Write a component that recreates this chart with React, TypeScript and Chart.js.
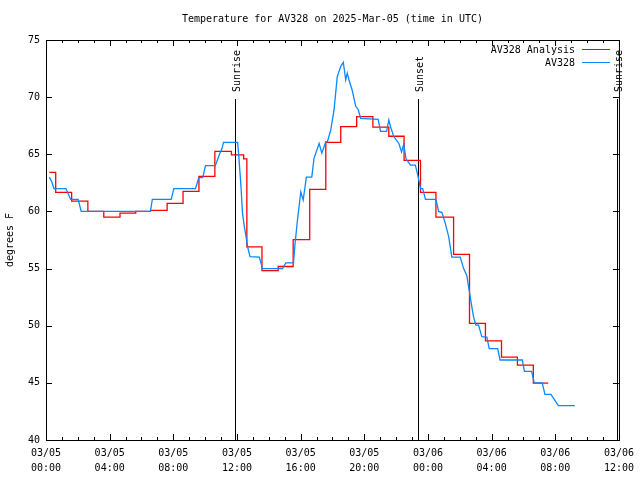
import React, { useEffect, useRef } from 'react';
import { Chart, registerables } from 'chart.js';

Chart.register(...registerables);

const TITLE = 'Temperature for AV328 on 2025-Mar-05 (time in UTC)';
const Y_TITLE = 'degrees F';
const SERIES_NAMES = ['AV328 Analysis', 'AV328'];

// hours since 2025-03-05 00:00 UTC; analysis is a step series (value holds until next point)
const analysisHours = [0.21, 0.61, 1.61, 2.63, 3.63, 4.65, 5.64, 6.57, 7.61, 8.61, 9.61, 10.61, 11.65, 12.42, 12.62, 13.57, 14.59, 15.53, 16.57, 17.58, 18.52, 19.52, 20.54, 21.54, 22.5, 23.53, 24.5, 25.61, 26.61, 27.61, 28.62, 29.62, 30.62, 31.56];
const analysisTemps = [63.42, 61.67, 60.9, 60.0, 59.5, 59.85, 60.0, 60.09, 60.7, 61.75, 63.07, 65.26, 64.94, 64.6, 56.9, 54.82, 55.18, 57.54, 61.93, 66.05, 67.42, 68.3, 67.37, 66.58, 64.47, 61.67, 59.5, 56.25, 50.2, 48.67, 47.26, 46.56, 44.98, 44.98];

const obsHours = [0.21, 0.36, 0.5, 1.25, 1.55, 2.02, 2.21, 6.56, 6.68, 7.87, 8.03, 9.39, 9.6, 9.85, 10.02, 10.64, 10.9, 11.06, 11.15, 12.04, 12.1, 12.25, 12.35, 12.46, 12.57, 12.67, 12.82, 13.4, 13.61, 14.86, 15.07, 15.55, 15.65, 15.8, 16.01, 16.16, 16.36, 16.7, 16.84, 17.16, 17.33, 17.58, 17.68, 17.89, 18.1, 18.3, 18.52, 18.68, 18.83, 18.93, 19.04, 19.24, 19.46, 19.62, 19.77, 20.87, 21.02, 21.4, 21.54, 21.65, 21.85, 22.17, 22.34, 22.48, 22.62, 22.9, 23.21, 23.38, 23.53, 23.67, 23.84, 24.5, 24.67, 24.88, 25.09, 25.3, 25.5, 26.03, 26.24, 26.44, 26.59, 26.72, 26.86, 27.01, 27.18, 27.38, 27.7, 27.85, 28.38, 28.53, 29.93, 30.06, 30.51, 30.68, 31.18, 31.35, 31.73, 32.19, 33.23];
const obsTemps = [63.0, 62.6, 62.0, 62.0, 61.05, 61.05, 60.0, 60.0, 61.05, 61.05, 62.0, 62.0, 62.95, 62.95, 64.0, 64.0, 65.0, 65.5, 66.05, 66.05, 65.1, 62.2, 59.8, 58.7, 57.8, 56.9, 56.05, 56.0, 55.0, 55.0, 55.5, 55.5, 57.2, 59.25, 61.7, 61.0, 63.0, 63.0, 64.65, 65.95, 65.1, 66.1, 66.1, 67.1, 68.9, 71.8, 72.7, 73.05, 71.5, 72.1, 71.5, 70.6, 69.2, 68.9, 68.15, 68.05, 67.0, 67.0, 68.0, 67.4, 66.55, 65.95, 65.2, 65.9, 64.6, 64.05, 64.05, 63.05, 62.0, 62.0, 61.05, 61.05, 60.0, 59.9, 58.95, 57.8, 56.0, 56.0, 55.0, 54.4, 53.1, 51.95, 50.8, 50.05, 50.05, 49.05, 49.0, 48.0, 48.0, 47.0, 47.0, 46.0, 46.0, 45.0, 45.0, 44.0, 44.0, 43.0, 43.0];

const xTickDates = ['03/05', '03/05', '03/05', '03/05', '03/05', '03/05', '03/06', '03/06', '03/06', '03/06'];
const xTickTimes = ['00:00', '04:00', '08:00', '12:00', '16:00', '20:00', '00:00', '04:00', '08:00', '12:00'];
const yTicks = [40, 45, 50, 55, 60, 65, 70, 75];

const sunEventHours = [11.9, 23.38, 35.88];
const sunEventLabels = ['Sunrise', 'Sunset', 'Sunrise'];

const FONT = '10px "DejaVu Sans Mono", monospace';
const RED = '#ff0000';
const BLUE = '#0a88ff';

const decorPlugin = {
  id: 'decor',
  beforeDatasetsDraw(chart: any) {
    const ctx = chart.ctx;
    const xs = chart.scales.x;
    const { bottom } = chart.chartArea;
    ctx.save();
    ctx.strokeStyle = '#000';
    ctx.fillStyle = '#000';
    ctx.lineWidth = 1;
    ctx.font = FONT;
    sunEventHours.forEach((h, i) => {
      const px = Math.round(xs.getPixelForValue(h)) + 0.5;
      ctx.beginPath();
      ctx.moveTo(px, 99);
      ctx.lineTo(px, bottom);
      ctx.stroke();
      ctx.save();
      ctx.translate(px + 1.5, 92);
      ctx.rotate(-Math.PI / 2);
      ctx.textAlign = 'left';
      ctx.textBaseline = 'middle';
      ctx.fillText(sunEventLabels[i], 0, 0);
      ctx.restore();
    });
    ctx.restore();
  },
  afterDraw(chart: any) {
    const ctx = chart.ctx;
    const xs = chart.scales.x;
    const ys = chart.scales.y;
    const { left, right, top, bottom } = chart.chartArea;
    ctx.save();
    ctx.strokeStyle = '#000';
    ctx.fillStyle = '#000';
    ctx.lineWidth = 1;
    // ticks
    ctx.beginPath();
    for (let h = 0; h <= 36; h++) {
      const px = Math.round(xs.getPixelForValue(h)) + 0.5;
      const len = h % 4 === 0 ? 6 : 3;
      ctx.moveTo(px, bottom);
      ctx.lineTo(px, bottom - len);
      ctx.moveTo(px, top);
      ctx.lineTo(px, top + len);
    }
    yTicks.forEach((v) => {
      const py = Math.round(ys.getPixelForValue(v)) + 0.5;
      ctx.moveTo(left, py);
      ctx.lineTo(left + 6, py);
      ctx.moveTo(right, py);
      ctx.lineTo(right - 6, py);
    });
    ctx.stroke();
    // frame
    ctx.strokeRect(left + 0.5, top + 0.5, right - left, bottom - top);
    // title
    ctx.font = FONT;
    ctx.textAlign = 'center';
    ctx.textBaseline = 'middle';
    ctx.fillText(TITLE, (left + right) / 2, 19);
    // y title
    ctx.save();
    ctx.translate(10, 240);
    ctx.rotate(-Math.PI / 2);
    ctx.fillText(Y_TITLE, 0, 0);
    ctx.restore();
    // legend
    const colors = [RED, BLUE];
    SERIES_NAMES.forEach((name, i) => {
      const ly = 49.5 + i * 13;
      ctx.textAlign = 'right';
      ctx.fillStyle = '#000';
      ctx.fillText(name, 575, ly + 0.5);
      ctx.strokeStyle = colors[i];
      ctx.beginPath();
      ctx.moveTo(582, ly);
      ctx.lineTo(610, ly);
      ctx.stroke();
    });
    ctx.restore();
  },
};

export default function App() {
  const ref = useRef<HTMLCanvasElement | null>(null);
  useEffect(() => {
    if (!ref.current) return;
    const chart = new Chart(ref.current, {
      type: 'line',
      data: {
        datasets: [
          {
            label: SERIES_NAMES[0],
            data: analysisHours.map((h, i) => ({ x: h, y: analysisTemps[i] })),
            borderColor: RED,
            borderWidth: 1.3,
            stepped: true,
            pointRadius: 0,
            fill: false,
            order: 1,
          },
          {
            label: SERIES_NAMES[1],
            data: obsHours.map((h, i) => ({ x: h, y: obsTemps[i] })),
            borderColor: BLUE,
            borderWidth: 1.3,
            pointRadius: 0,
            tension: 0,
            fill: false,
            order: 0,
          },
        ],
      },
      options: {
        animation: false,
        responsive: false,
        devicePixelRatio: 1,
        layout: { padding: { left: 0, right: 19, top: 40, bottom: 0 } },
        plugins: {
          legend: { display: false },
          title: { display: false },
          tooltip: { enabled: false },
        },
        scales: {
          x: {
            type: 'linear',
            min: 0,
            max: 36,
            afterFit: (s: any) => {
              s.height = 40;
            },
            grid: { display: false, drawTicks: false },
            border: { display: false },
            ticks: {
              stepSize: 4,
              autoSkip: false,
              maxRotation: 0,
              padding: 6,
              color: '#000',
              font: { family: '"DejaVu Sans Mono", monospace', size: 10, lineHeight: 1.5 },
              callback: (v: any) => {
                const i = Math.round(Number(v) / 4);
                return [xTickDates[i], xTickTimes[i]];
              },
            },
          },
          y: {
            type: 'linear',
            min: 40,
            max: 75,
            afterFit: (s: any) => {
              s.width = 46;
            },
            grid: { display: false, drawTicks: false },
            border: { display: false },
            ticks: {
              stepSize: 5,
              padding: 6,
              color: '#000',
              font: { family: '"DejaVu Sans Mono", monospace', size: 10 },
            },
          },
        },
      },
      plugins: [decorPlugin],
    });
    return () => chart.destroy();
  }, []);
  return (
    <div style={{ position: 'fixed', left: 0, top: 0, width: 640, height: 480, background: '#fff' }}>
      <canvas ref={ref} width={640} height={480} />
    </div>
  );
}
